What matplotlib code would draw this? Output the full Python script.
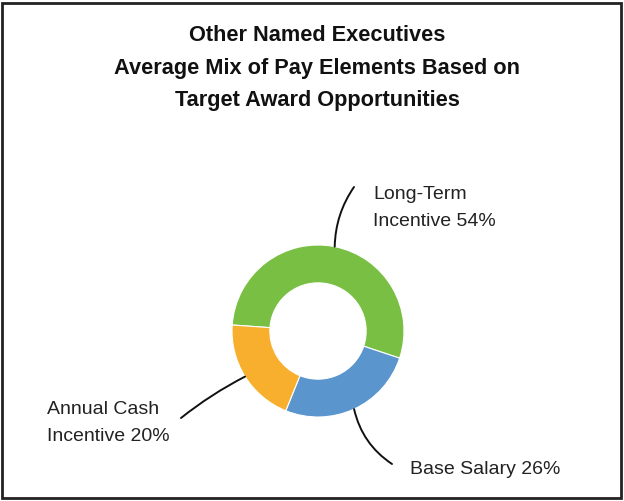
import numpy as np
import matplotlib.pyplot as plt
from matplotlib.patches import Rectangle

plt.rcParams['font.family'] = ['Liberation Sans', 'DejaVu Sans']

title = "Other Named Executives\nAverage Mix of Pay Elements Based on\nTarget Award Opportunities"
labels = ["Long-Term\nIncentive 54%", "Base Salary 26%", "Annual Cash\nIncentive 20%"]
shares = [54, 26, 20]
colors = ["#79BF43", "#5A95CE", "#F8AF2E"]

W, H = 624, 501
fig = plt.figure(figsize=(W / 100, H / 100), dpi=100)
ax = fig.add_axes([0, 0, 1, 1])

# pixel-like coordinates, y measured from bottom
cx, cy, r = 318, H - 331, 86
wedges, _ = ax.pie(shares, colors=colors, startangle=176, counterclock=False,
                   center=(cx, cy), radius=r, frame=True,
                   wedgeprops=dict(width=r * 0.44, edgecolor="white", linewidth=0.8))
ax.set_xlim(0, W)
ax.set_ylim(0, H)
ax.set_aspect("equal")
ax.axis("off")

ax.text(317, H - 68, title, ha="center", va="center", fontsize=15.7,
        fontweight="bold", linespacing=1.72, color="#111111")

# label text positions (left anchor) and leader line ends
label_pos = [(373, H - 208), (410, H - 470), (47, H - 423)]
line_end = [(354, H - 187), (392, H - 464), (181, H - 418)]
rads = [0.15, -0.2, -0.05]
for w, txt, (tx, ty), end, rad in zip(wedges, labels, label_pos, line_end, rads):
    ang = np.deg2rad((w.theta1 + w.theta2) / 2)
    start = (cx + r * np.cos(ang), cy + r * np.sin(ang))
    ax.annotate("", xy=start, xytext=end,
                arrowprops=dict(arrowstyle="-", color="#111111", lw=1.4,
                                shrinkA=0, shrinkB=0,
                                connectionstyle=f"arc3,rad={rad}"))
    ax.text(tx, ty, txt, ha="left", va="center", fontsize=14,
            linespacing=1.75, color="#222222")

fig.patches.append(Rectangle((2 / W, 3 / H), (W - 5) / W, (H - 6) / H,
                             transform=fig.transFigure, fill=False,
                             edgecolor="#222222", linewidth=2))

fig.savefig("out.png", dpi=100)
